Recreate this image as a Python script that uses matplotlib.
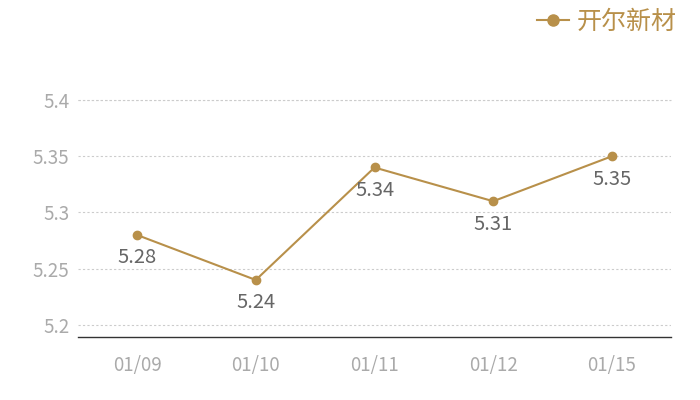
import matplotlib
matplotlib.use("Agg")
import matplotlib.pyplot as plt
from matplotlib.lines import Line2D

plt.rcParams['font.family'] = ['Noto Sans CJK SC', 'DejaVu Sans']

categories = ["01/09", "01/10", "01/11", "01/12", "01/15"]
values = [5.28, 5.24, 5.34, 5.31, 5.35]
yticks = [5.2, 5.25, 5.3, 5.35, 5.4]
ytick_labels = ["5.2", "5.25", "5.3", "5.35", "5.4"]
series_name = "开尔新材"

gold = "#b8904a"

fig = plt.figure(figsize=(7, 4), dpi=100)
ax = fig.add_axes([0.111, 0.1575, 0.848, 0.5925])

x = list(range(len(categories)))
ax.plot(x, values, color=gold, lw=1.5, marker='o', ms=6, zorder=3)
for xi, v in zip(x, values):
    ax.annotate(f"{v:.2f}", (xi, v), xytext=(0, -9), textcoords='offset points',
                ha='center', va='top', fontsize=14.5, color='#666666')

ax.set_xlim(-0.5, len(categories) - 0.5)
ax.set_ylim(5.1893, 5.4)
ax.set_yticks(yticks)
ax.set_yticklabels(ytick_labels)
ax.set_xticks(x)
ax.set_xticklabels(categories)
ax.tick_params(axis='both', length=0, colors='#aaaaaa', labelsize=13.5)
ax.tick_params(axis='x', pad=13)
ax.tick_params(axis='y', pad=6)
ax.grid(axis='y', linestyle=(0, (2, 2)), color='#cccccc', lw=0.8)
ax.set_axisbelow(True)
for s in ['top', 'right', 'left']:
    ax.spines[s].set_visible(False)
ax.spines['bottom'].set_color('#333333')
ax.spines['bottom'].set_linewidth(1)
ax.axhline(5.4, linestyle=(0, (2, 2)), color='#cccccc', lw=0.8, clip_on=False)

handle = Line2D([], [], color=gold, lw=1.5, marker='o', ms=8)
leg = fig.legend([handle], [series_name], loc='upper right', bbox_to_anchor=(0.999, 1.035),
                 frameon=False, fontsize=18, handlelength=1.3, handletextpad=0.3)
for t in leg.get_texts():
    t.set_color(gold)

fig.savefig("out.png", dpi=100)
